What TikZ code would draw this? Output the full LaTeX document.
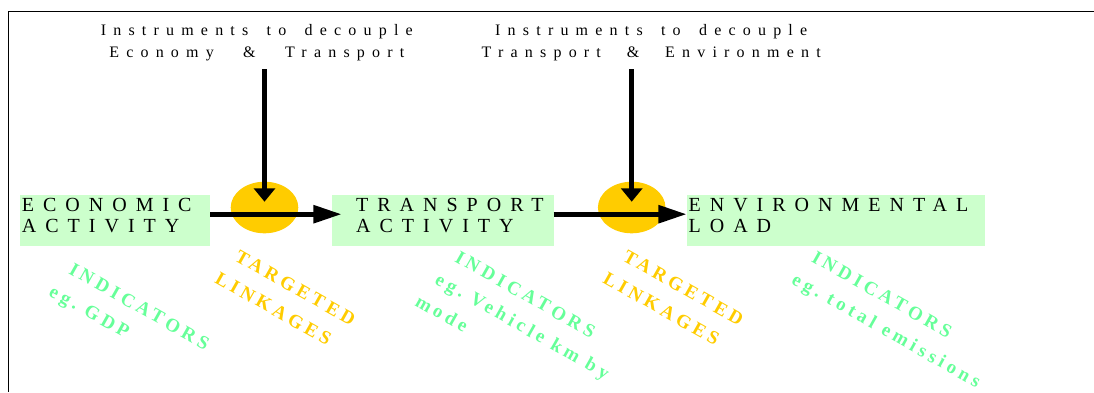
\documentclass[tikz,border=0pt]{standalone}
\usepackage{fontspec}
\setmainfont{Liberation Serif}
\newfontfamily\spacedfont[LetterSpace=45]{Liberation Serif}
\newfontfamily\notefont[LetterSpace=22]{Liberation Serif}
\usetikzlibrary{positioning,shapes.geometric,arrows.meta}

\definecolor{boxgreen}{HTML}{CCFFCC}
\definecolor{linkyellow}{HTML}{FFCC00}
\definecolor{indgreen}{HTML}{66FF99}

\newcommand{\wordgap}[1][9pt]{\hspace{#1}}
\newcommand{\spreadline}[2]{\makebox[#1][s]{#2}}

\tikzset{
  stage/.style={rectangle, fill=boxgreen, anchor=north west, inner xsep=1.7pt, inner ysep=0pt,
    text height=16.7pt, text depth=34.3pt, align=left,
    font=\spacedfont\fontsize{20}{21}\selectfont},
  instrument/.style={anchor=base, inner sep=0pt, text width=360pt, align=center,
    font=\spacedfont\fontsize{16}{22}\selectfont},
  linkage/.style={ellipse, fill=linkyellow, inner sep=0pt, minimum width=67.6pt, minimum height=51.6pt},
  indicator/.style={rotate=-29.5, anchor=base west, inner sep=0pt, text width=230pt, align=left,
    text=indgreen, font=\notefont\bfseries\fontsize{19}{29}\selectfont},
  targeted/.style={indicator, text=linkyellow},
  flow/.style={line width=5pt, -{Triangle[length=28.4pt,width=17.3pt]}},
  push/.style={line width=5pt, -{Triangle[length=13.4pt,width=21pt]}},
}

\begin{document}
\begin{tikzpicture}[x=1pt, y=-1pt]

  \useasboundingbox (0,0) rectangle (1094,392);
  \draw[line width=1.5pt] (1094,11.6) -| (8.4,392);

  % Define nodes
  \node[linkage] (linkA) at (264.5,207.5) {};
  \node[linkage] (linkB) at (631.7,207.5) {};

  \node[stage, text width=186.6pt] (econ)      at (20,195)    {ECONOMIC\\ACTIVITY};
  \node[stage, text width=218.2pt] (transport) at (331.7,195) {\hspace*{22.6pt}TRANSPORT\\\hspace*{22.6pt}ACTIVITY};
  \node[stage, text width=294.9pt] (envload)   at (686.7,195) {ENVIRONMENTAL\\LOAD};

  \node[instrument] (instrA) at (256.8,35.7)
    {\spreadline{312pt}{Instruments\hfill to\hfill decouple}\\\spreadline{295pt}{Economy\hfill\&\hfill Transport}};
  \node[instrument] (instrB) at (651.2,35.7)
    {\spreadline{312pt}{Instruments\hfill to\hfill decouple}\\\spreadline{339pt}{Transport\hfill\&\hfill Environment}};

  % Rotated notes under the chain
  \node[indicator] (indEcon)      at (67.7,272.9)  {INDICATORS\\\hspace*{-6.5pt}eg.\wordgap GDP};
  \node[targeted]  (tagA)         at (233.7,259.9) {TARGETED\\\hspace*{-6.5pt}LINKAGES};
  \node[indicator] (indTransport) at (453.7,260.9) {INDICATORS\\\hspace*{-6.5pt}eg.\wordgap Vehicle\wordgap km\wordgap by\\\hspace*{-13pt}mode};
  \node[targeted]  (tagB)         at (621.7,259.9) {TARGETED\\\hspace*{-6.5pt}LINKAGES};
  \node[indicator] (indEnv)       at (810.4,260.9) {INDICATORS\\\hspace*{-6.5pt}eg.\wordgap total\wordgap emissions};

  % Connect the nodes
  \draw[flow] ([yshift=6.5pt]econ.east) -- ([xshift=10pt,yshift=6.5pt]transport.west);
  \draw[flow] ([yshift=6.5pt]transport.east) -- ([yshift=6.5pt]envload.west);
  \draw[push, shorten <=8pt] (instrA.south -| linkA) -- ([yshift=5.8pt]linkA.center);
  \draw[push, shorten <=8pt] (instrB.south -| linkB) -- ([yshift=5.8pt]linkB.center);

\end{tikzpicture}
\end{document}
